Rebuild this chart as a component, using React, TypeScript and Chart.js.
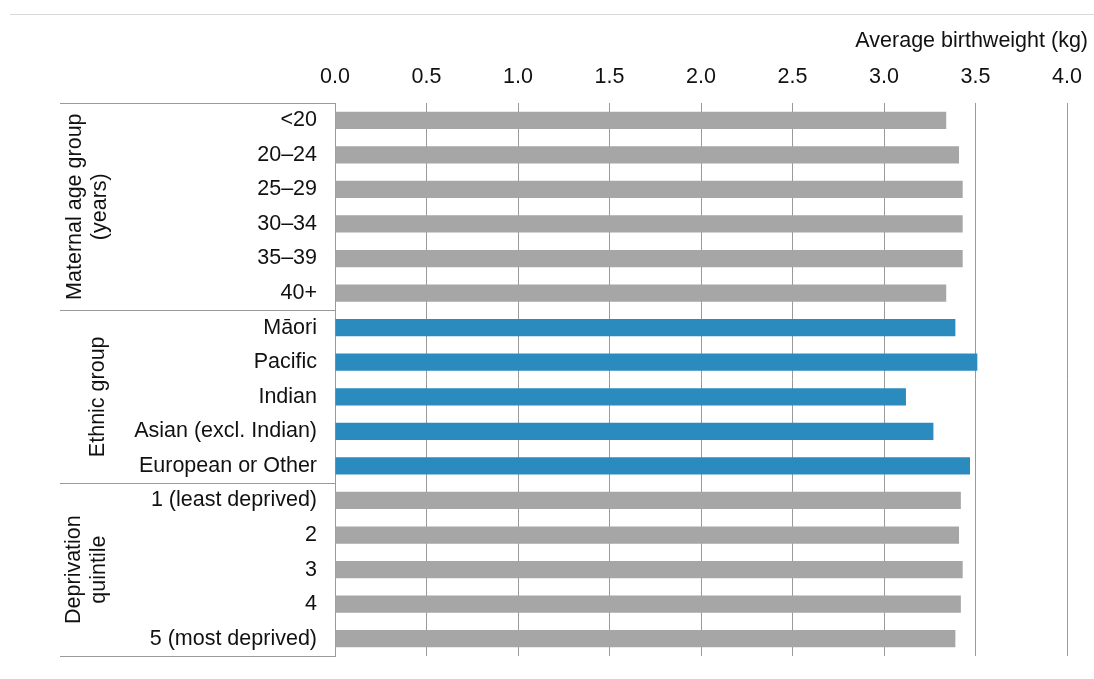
import React, { useEffect, useRef } from "react";
import { Chart, registerables } from "chart.js";

Chart.register(...registerables);

const categories = [
  "<20",
  "20–24",
  "25–29",
  "30–34",
  "35–39",
  "40+",
  "Māori",
  "Pacific",
  "Indian",
  "Asian (excl. Indian)",
  "European or Other",
  "1 (least deprived)",
  "2",
  "3",
  "4",
  "5 (most deprived)",
];
const values = [3.34, 3.41, 3.43, 3.43, 3.43, 3.34, 3.39, 3.51, 3.12, 3.27, 3.47, 3.42, 3.41, 3.43, 3.42, 3.39];
const groupLabels = [["Maternal age group", "(years)"], ["Ethnic group"], ["Deprivation", "quintile"]];
const groupSizes = [6, 5, 5];
const groupLabelX = [88, 98, 87];
const axisTitle = "Average birthweight (kg)";
const xMin = 0;
const xMax = 4;
const xStep = 0.5;

const GREY = "#a6a6a6";
const BLUE = "#2b8bbf";
const LINE = "#9a9a9a";
const TEXT = "#111111";
const FONT = "'Liberation Sans', Arial, sans-serif";
const FS = 21.5;

const barColors = categories.map((_, i) => {
  let start = 0;
  for (let g = 0; g < groupSizes.length; g++) {
    if (i < start + groupSizes[g]) return g === 1 ? BLUE : GREY;
    start += groupSizes[g];
  }
  return GREY;
});

const decorPlugin = {
  id: "decor",
  afterDraw(chart: any) {
    const ctx = chart.ctx;
    const area = chart.chartArea;
    const y = chart.scales.y;
    ctx.save();
    // top rule
    ctx.strokeStyle = "#d9d9d9";
    ctx.lineWidth = 1;
    ctx.beginPath();
    ctx.moveTo(10, 14.5);
    ctx.lineTo(chart.width, 14.5);
    ctx.stroke();
    // axis title
    ctx.fillStyle = TEXT;
    ctx.font = `${FS}px ${FONT}`;
    ctx.textAlign = "right";
    ctx.textBaseline = "middle";
    ctx.fillText(axisTitle, 1088, 41);
    // group separators and labels
    const half = (y.getPixelForValue(1) - y.getPixelForValue(0)) / 2;
    ctx.strokeStyle = LINE;
    let start = 0;
    const bounds: number[] = [];
    for (let g = 0; g < groupSizes.length; g++) {
      const top = y.getPixelForValue(start) - half;
      const bottom = y.getPixelForValue(start + groupSizes[g] - 1) + half;
      bounds.push(top);
      if (g === groupSizes.length - 1) bounds.push(bottom);
      const cy = (top + bottom) / 2;
      const lines = groupLabels[g];
      const lh = 25;
      ctx.save();
      ctx.translate(groupLabelX[g], cy);
      ctx.rotate(-Math.PI / 2);
      ctx.fillStyle = TEXT;
      ctx.font = `${FS}px ${FONT}`;
      ctx.textAlign = "center";
      ctx.textBaseline = "middle";
      lines.forEach((t, k) => {
        ctx.fillText(t, 0, (k - (lines.length - 1) / 2) * lh);
      });
      ctx.restore();
      start += groupSizes[g];
    }
    bounds.forEach((b) => {
      const yy = Math.round(b) + 0.5;
      ctx.beginPath();
      ctx.moveTo(60, yy);
      ctx.lineTo(area.left, yy);
      ctx.stroke();
    });
    ctx.restore();
  },
};

export default function App() {
  const ref = useRef<HTMLCanvasElement | null>(null);
  useEffect(() => {
    document.body.style.margin = "0";
    document.body.style.overflow = "hidden";
    const chart = new Chart(ref.current as HTMLCanvasElement, {
      type: "bar",
      data: {
        labels: categories,
        datasets: [
          {
            data: values,
            backgroundColor: barColors,
            borderWidth: 0,
            barPercentage: 0.5,
            categoryPercentage: 1,
          },
        ],
      },
      options: {
        indexAxis: "y",
        responsive: false,
        animation: false,
        layout: { padding: { top: 0, right: 27, bottom: 23, left: 0 } },
        plugins: { legend: { display: false }, tooltip: { enabled: false } },
        scales: {
          x: {
            position: "top",
            min: xMin,
            max: xMax,
            ticks: {
              stepSize: xStep,
              padding: 13,
              color: TEXT,
              font: { size: FS, family: FONT },
              callback: (v: any) => Number(v).toFixed(1),
            },
            grid: { color: LINE, drawTicks: false, lineWidth: 1 },
            border: { display: false },
            afterFit: (s: any) => {
              s.height = 103;
              s.paddingLeft = 0;
              s.paddingRight = 0;
            },
          },
          y: {
            ticks: {
              padding: 18,
              color: TEXT,
              font: { size: FS, family: FONT },
              autoSkip: false,
            },
            grid: { display: false, drawTicks: false },
            border: { display: true, color: LINE, width: 1 },
            afterFit: (s: any) => {
              s.width = 335;
              s.paddingTop = 0;
              s.paddingBottom = 0;
            },
          },
        },
      },
      plugins: [decorPlugin],
    });
    return () => chart.destroy();
  }, []);
  return (
    <canvas ref={ref} width={1094} height={679} style={{ display: "block", width: 1094, height: 679 }} />
  );
}
